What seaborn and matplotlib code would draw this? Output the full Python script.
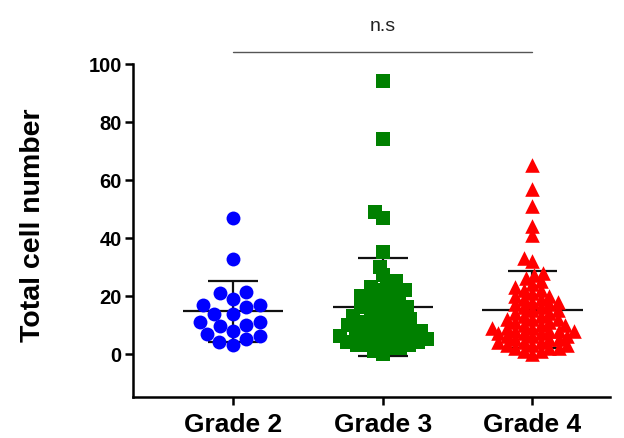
import numpy as np
import pandas as pd
import matplotlib
matplotlib.use("Agg")
import matplotlib.pyplot as plt
import seaborn as sns

categories = ["Grade 2", "Grade 3", "Grade 4"]
colors = ["#0000FF", "#008000", "#FF0000"]
markers = ["o", "s", "^"]

grade2 = [46.9, 32.8, 21.3, 19.0, 20.9, 16.9, 16.9, 16.1, 13.8, 13.8,
          9.4, 10.0, 10.9, 11.1, 7.8, 6.9, 6.0, 4.0, 5.2, 2.9]
grade3 = [94, 74, 49, 47, 35, 30,
          27, 25, 24, 23, 22, 22, 21, 20, 20, 19,
          18, 18, 17, 16, 16, 15, 15, 14, 13, 13,
          12, 12, 11, 11, 10, 10, 9, 9, 8, 8,
          7, 7, 6, 6, 5, 5, 4, 4, 3, 3,
          2, 2, 1, 0, 8, 6, 5, 4, 3]
grade4 = [65, 57, 51, 44, 41, 33, 32,
          28, 27, 26, 25, 24, 23, 22, 22, 21, 20,
          20, 19, 19, 18, 18, 17, 17, 16, 16, 15,
          15, 14, 14, 13, 13, 12, 12, 12, 11, 11,
          10, 10, 10, 9, 9, 9, 8, 8, 8, 7,
          7, 7, 6, 6, 5, 5, 4, 4, 3, 3,
          2, 1, 0, 8, 6, 5, 4, 3, 2, 1, 2]
groups = [grade2, grade3, grade4]

y_ticks = [0, 20, 40, 60, 80, 100]
y_label = "Total cell number"
sig_text = "n.s"

sns.set_theme(style="ticks")
plt.rcParams["font.family"] = ["Liberation Sans", "DejaVu Sans"]

fig = plt.figure(figsize=(6.24, 4.39), dpi=100)
ax = fig.add_axes([0.213, 0.093, 0.765, 0.759])
ax.set_xlim(-0.67, 2.52)
ax.set_ylim(-15, 100)

swarm_sizes = [10, 6.6, 6.2]
shown_sizes = [10, 9.5, 10.5]
cols = []
for i, (vals, c, m) in enumerate(zip(groups, colors, markers)):
    n0 = len(ax.collections)
    sns.swarmplot(x=[categories[i]] * len(vals), y=vals, order=categories,
                  color=c, marker=m, size=swarm_sizes[i], linewidth=0,
                  ax=ax, zorder=3, warn_thresh=1.0)
    cols.append(ax.collections[n0:])

for i, vals in enumerate(groups):
    v = np.asarray(vals, dtype=float)
    mu = v.mean()
    sd = v.std(ddof=1)
    ax.hlines(mu, i - 0.335, i + 0.335, color="#111111", lw=1.6, zorder=1)
    ax.vlines(i, mu - sd, mu + sd, color="#111111", lw=1.6, zorder=1)
    ax.hlines([mu - sd, mu + sd], i - 0.165, i + 0.165, color="#111111", lw=1.6, zorder=1)

ax.set_ylim(-15, 100)
ax.set_xlim(-0.67, 2.52)
ax.set_yticks(y_ticks)
ax.set_xticks([0, 1, 2])
ax.set_xticklabels(categories, fontsize=19, fontweight="bold", color="black")
ax.set_yticklabels([str(t) for t in y_ticks], fontsize=14.5, fontweight="bold", color="black")
ax.set_xlabel("")
ax.set_ylabel(y_label, fontsize=20.5, fontweight="bold", color="black")
ax.yaxis.set_label_coords(-0.183, 0.52)

for s in ["top", "right"]:
    ax.spines[s].set_visible(False)
for s in ["left", "bottom"]:
    ax.spines[s].set_linewidth(1.8)
    ax.spines[s].set_color("black")
ax.tick_params(axis="both", direction="out", length=6, width=1.8, color="black", pad=2)
ax.tick_params(axis="x", pad=5)

ax.plot([0, 2], [104, 104], color="#555555", lw=1.0, clip_on=False)
ax.text(1, 110.5, sig_text, ha="center", va="bottom", fontsize=14, color="#222222")

# let seaborn place the swarm, then freeze positions and show larger markers
fig.canvas.draw()
for i, cl in enumerate(cols):
    for coll in cl:
        if "draw" in coll.__dict__:
            del coll.__dict__["draw"]
        coll.set_sizes([shown_sizes[i] ** 2])

fig.savefig("out.png", dpi=100)
